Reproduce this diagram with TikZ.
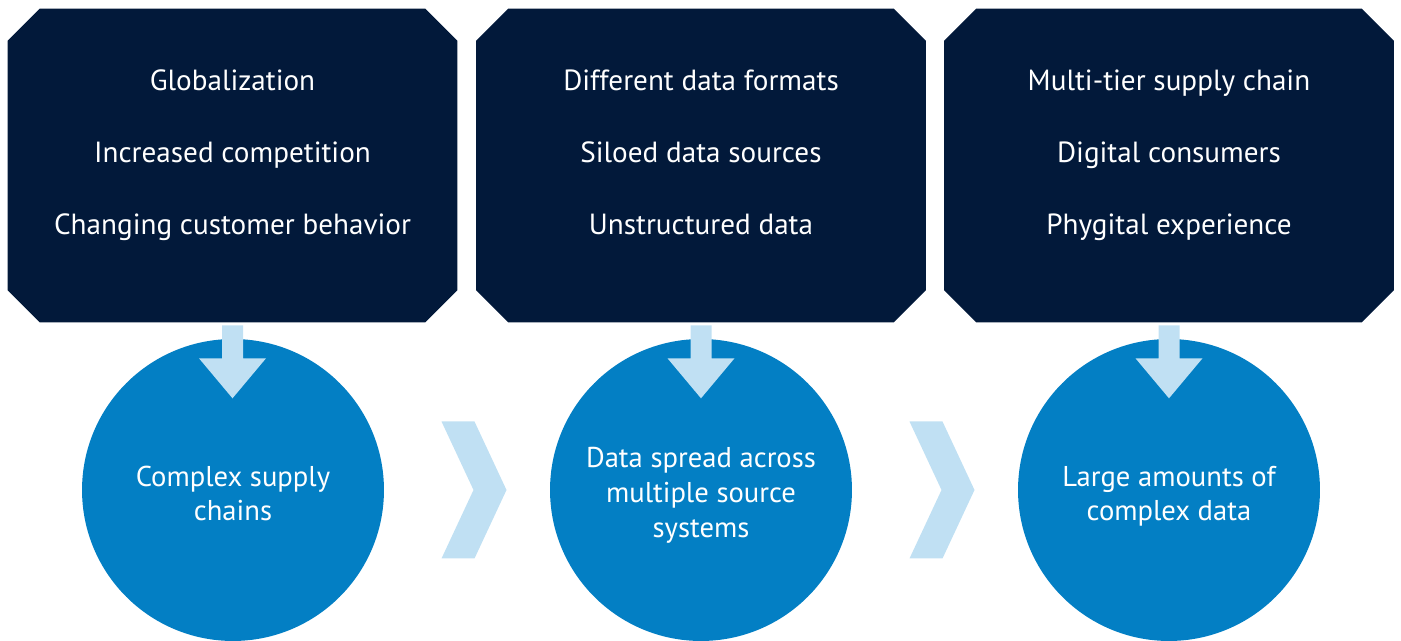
\documentclass[tikz,border=0pt]{standalone}
\usepackage{fontspec}
\setmainfont{PT Sans}
\usetikzlibrary{calc}
\definecolor{navy}{RGB}{2,25,58}
\definecolor{midblue}{RGB}{3,127,196}
\definecolor{paleblue}{RGB}{192,224,243}

\begin{document}
\begin{tikzpicture}[x=0.02cm,y=-0.02cm]
\tikzstyle{cbox}=[rectangle, minimum width=8.98cm, minimum height=6.26cm, inner sep=0pt]
\tikzstyle{btext}=[text=white, align=center, text depth=4.2pt, font=\fontsize{16.6}{41}\selectfont]
\tikzstyle{circ}=[circle, fill=midblue, minimum size=6.04cm, inner sep=0pt]
\tikzstyle{ctext}=[text=white, align=center, text depth=4.1pt, font=\fontsize{16.3}{19.8}\selectfont]
\tikzstyle{arr}=[fill=paleblue]
\useasboundingbox (0,0) rectangle (1401,641);
\node[cbox] (b1) at (232.5,165.5) {};
\node[cbox] (b2) at (701,165.5) {};
\node[cbox] (b3) at (1169,165.5) {};
% chamfered boxes
\foreach \i in {1,2,3}{
  \fill[navy] ([xshift=0.64cm]b\i.north west) -- ([xshift=-0.64cm]b\i.north east)
    -- ([yshift=-0.64cm]b\i.north east) -- ([yshift=0.64cm]b\i.south east)
    -- ([xshift=-0.64cm]b\i.south east) -- ([xshift=0.64cm]b\i.south west)
    -- ([yshift=0.64cm]b\i.south west) -- ([yshift=-0.64cm]b\i.north west) -- cycle;
}
\node[btext] (t1) at ([yshift=0.2cm]b1.center) {Globalization\\Increased competition\\Changing customer behavior};
\node[btext] (t2) at ([yshift=0.2cm]b2.center) {Different data formats\\Siloed data sources\\Unstructured data};
\node[btext] (t3) at ([yshift=0.2cm]b3.center) {Multi-tier supply chain\\Digital consumers\\Phygital experience};
\node[circ] (c1) at (233,490) {};
\node[circ] (c2) at (701,490) {};
\node[circ] (c3) at (1169,490) {};
\node[ctext] (s1) at ([yshift=-0.14cm]c1.center) {Complex supply\\chains};
\node[ctext] (s2) at ([yshift=-0.12cm]c2.center) {Data spread across\\multiple source\\systems};
\node[ctext] (s3) at ([yshift=-0.14cm]c3.center) {Large amounts of\\complex data};
% down arrows
\foreach \i in {1,2,3}{
  \fill[arr] ([shift={(-10.5,3)}]b\i.south) -- ++(0,33) -- ++(-23,0) -- ++(33.5,40)
    -- ++(33.5,-40) -- ++(-23,0) -- ++(0,-33) -- cycle;
}
% chevrons
\foreach \i/\j in {1/2,2/3}{
  \coordinate (m\i) at ($(c\i.east)!0.5!(c\j.west)$);
  \fill[arr] ([shift={(-25.5,-68.5)}]m\i) -- ++(33,0) -- ++(32,68.5) -- ++(-32,68.5)
    -- ++(-33,0) -- ++(32,-68.5) -- cycle;
}
\end{tikzpicture}
\end{document}
